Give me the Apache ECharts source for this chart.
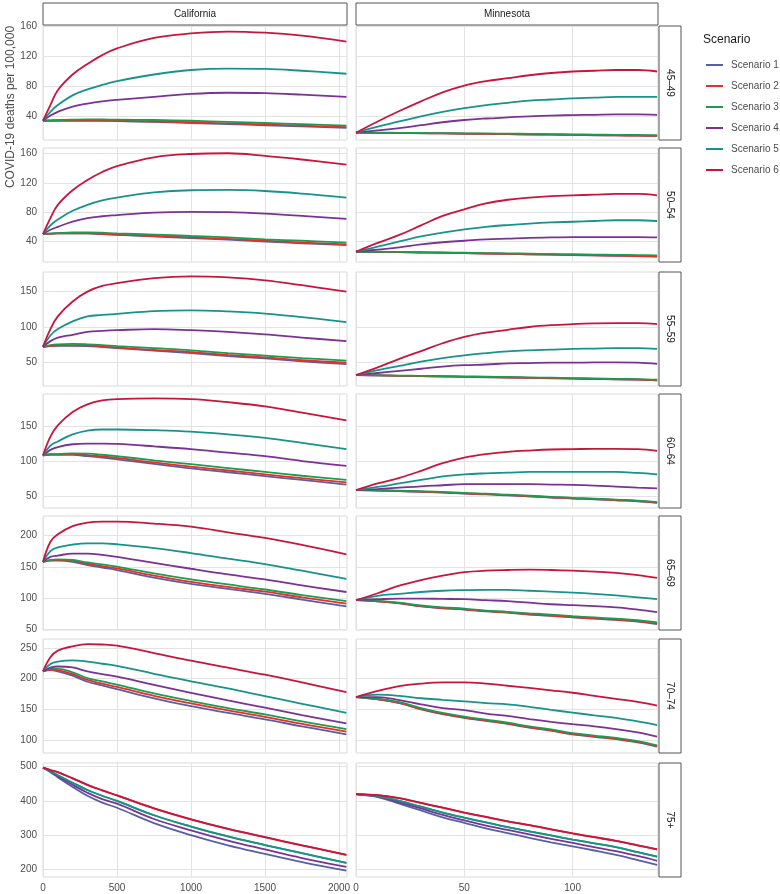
<!DOCTYPE html>
<html>
<head>
<meta charset="utf-8">
<script src="https://cdn.jsdelivr.net/npm/echarts@6/dist/echarts.min.js"></script>
<style>
html, body { margin: 0; padding: 0; background: #fff; }
#chart { width: 780px; height: 894px; }
</style>
</head>
<body>
<div id="chart"></div>
<script>
// ---- data ----
var scenarios = ['Scenario 1', 'Scenario 2', 'Scenario 3', 'Scenario 4', 'Scenario 5', 'Scenario 6'];
var states = ['California', 'Minnesota'];
var ageGroups = ['45–49', '50–54', '55–59', '60–64', '65–69', '70–74', '75+'];

var caDays = [0, 50, 100, 200, 300, 400, 500, 750, 1000, 1250, 1500, 1750, 2050];
var mnDays = [0, 10, 20, 30, 40, 50, 60, 70, 80, 90, 100, 110, 120, 130, 139];

var caTicksX = [0, 500, 1000, 1500, 2000];
var mnTicksX = [0, 50, 100];
var yTicks = [
    [40, 80, 120, 160],
    [40, 80, 120, 160],
    [50, 100, 150],
    [50, 100, 150],
    [50, 100, 150, 200],
    [100, 150, 200, 250],
    [200, 300, 400, 500]
];

// California, one row per scenario
var ca4549 = [
    [34, 34, 34, 34, 34, 34, 33.5, 32.5, 31, 29.5, 28, 26.5, 24.5],
    [34, 34.2, 34.4, 34.5, 34.5, 34.3, 34, 33, 32, 30.5, 29, 27.5, 25.5],
    [34, 34.5, 35, 35.5, 35.8, 35.7, 35.5, 35, 34, 32.5, 31, 29.5, 27.5],
    [34, 41, 46, 53, 57, 60, 62, 66, 70, 71.5, 71, 69, 66],
    [34, 46, 55, 68, 76, 82, 87, 96, 102, 104, 103.5, 101, 97],
    [34, 55, 75, 96, 110, 122, 131, 145, 151, 153.5, 152, 148, 140]
];
var ca5054 = [
    [50, 50.5, 51, 51, 51, 50, 49, 47, 44.5, 42.5, 40, 37.5, 35],
    [50, 50.5, 51, 51.3, 51.3, 50.5, 49.5, 47.5, 45.5, 43.5, 41, 38.5, 36],
    [50, 51, 51.5, 52.3, 52.5, 52, 51, 49.5, 47.5, 45.5, 43, 41, 38.5],
    [50, 56, 60, 67, 72, 74.5, 76, 79.5, 80.5, 80, 78, 75, 71],
    [50, 62, 70, 82, 90, 96, 100, 107, 110, 110.5, 109, 105.5, 100],
    [50, 72, 90, 110, 124, 135, 143, 155, 159.5, 160.5, 157, 152, 145]
];
var ca5559 = [
    [72, 73, 73.5, 73.5, 73, 71.5, 70, 66.5, 63, 59, 55.5, 51.5, 47.5],
    [72, 73.5, 74, 74, 74, 72.5, 71, 67.5, 64.5, 60.5, 57, 53, 49.5],
    [72, 74.5, 75.5, 76, 75.5, 74.5, 73, 70, 67, 63, 59.5, 56, 52.5],
    [72, 80, 85, 89, 93, 94.5, 95.5, 97, 95.5, 93, 89.5, 85, 80],
    [72, 88, 97, 108, 115, 117, 118.5, 122.5, 123.5, 122, 119, 114, 107],
    [72, 97, 115, 136, 150, 158, 162, 169, 171.5, 170, 166, 159, 150]
];
var ca6064 = [
    [108, 109, 109, 109, 107, 105, 102.5, 96, 89.5, 84, 78.5, 73, 66.5],
    [108, 109.5, 109.5, 110, 108.5, 106.5, 104.5, 98, 92, 86.5, 81, 75.5, 69.5],
    [108, 110, 110, 111, 110.5, 109, 107, 101, 95.5, 90, 84.5, 79, 73],
    [108, 116, 120, 124, 125, 125, 124.5, 121, 117, 112, 107, 100, 93],
    [108, 122, 128, 138, 143.5, 145, 145, 144, 142, 138, 133, 126, 117],
    [108, 135, 151, 170, 181, 186.5, 188.5, 189.5, 188.5, 184, 178, 169, 158]
];
var ca6569 = [
    [158, 160, 160, 158, 153, 149, 145, 133, 123, 115, 107, 98, 87],
    [158, 160.5, 161, 159.5, 155, 151, 147.5, 136, 126, 118, 110.5, 101.5, 91.5],
    [158, 161, 162, 161, 157, 154, 150.5, 139.5, 130, 122, 114, 105, 95.5],
    [158, 166, 168, 171, 171, 169, 166, 156.5, 147, 138, 130, 120.5, 110],
    [158, 175, 181, 185.5, 187.5, 187.5, 186, 180, 172, 163, 154.5, 144, 131],
    [158, 190, 202, 215, 220.5, 222, 222, 219, 214, 205, 196, 185, 170]
];
var ca7074 = [
    [212, 214, 212, 205, 195, 189, 183, 168, 155, 144, 133.5, 122, 109],
    [212, 215, 214, 207.5, 198, 192, 186.5, 172, 159.5, 148, 137.5, 126, 113.5],
    [212, 216, 216, 210.5, 201, 195.5, 190.5, 176, 163.5, 152, 141.5, 130, 117.5],
    [212, 218, 220, 218.5, 212, 207.5, 203.5, 190, 177, 164.5, 152.5, 140.5, 127],
    [212, 224, 228, 230, 228, 224.5, 221, 208, 195.5, 184, 171.5, 159, 144],
    [212, 235, 246, 253, 256.5, 256, 254, 242, 229.5, 218, 206.5, 194, 178]
];
var ca75 = [
    [497, 484, 469, 441, 415, 395, 380, 335, 300, 270, 245, 221, 196],
    [497, 490, 484, 466, 447, 431, 416, 378, 346, 318, 294, 270, 242],
    [497, 487, 475, 453, 432, 415, 400, 358, 325, 296, 271, 247, 219],
    [497, 486, 472, 447, 424, 405, 392, 347, 314, 284, 258, 233, 207],
    [497, 487, 475, 453, 432, 415, 400, 358, 325, 296, 271, 247, 219],
    [497, 490, 484, 466, 447, 431, 416, 378, 346, 318, 294, 270, 242]
];

// Minnesota, one row per scenario
var mn4549 = [
    [18, 17.8, 17.5, 17.2, 17, 16.6, 16.3, 16, 15.6, 15.3, 15, 14.6, 14.3, 14, 13.6],
    [18, 17.8, 17.6, 17.3, 17, 16.7, 16.4, 16.1, 15.7, 15.4, 15.1, 14.7, 14.4, 14.1, 13.7],
    [18, 18, 17.8, 17.6, 17.4, 17.2, 17, 16.7, 16.4, 16.1, 15.8, 15.5, 15.2, 14.9, 14.6],
    [18, 21, 24, 28, 32, 35, 37, 38.5, 40, 41, 41.5, 42, 42.5, 42.5, 42],
    [18, 26, 33, 40, 46, 51, 55, 58, 61, 62.5, 64, 65, 66, 66, 66],
    [18, 33, 47, 60, 72, 81, 87, 91, 95, 98, 100, 101, 102, 102, 100]
];
var mn5054 = [
    [26, 25.8, 25.5, 25, 24.5, 24, 23.5, 23, 22.5, 22, 21.5, 21, 20.5, 20, 19.5],
    [26, 25.8, 25.5, 25, 24.6, 24.1, 23.6, 23.1, 22.6, 22.1, 21.6, 21.1, 20.6, 20.1, 19.6],
    [26, 26, 25.8, 25.4, 25, 24.6, 24.2, 23.8, 23.4, 23, 22.6, 22.2, 21.8, 21.4, 21],
    [26, 29, 32, 36, 39, 41, 43, 44, 45, 45.5, 46, 46, 46, 46, 45.5],
    [26, 33, 40, 47, 52, 56.5, 60, 62.5, 64.5, 66, 67, 68, 69, 69, 68],
    [26, 38, 49, 62, 75, 84, 92, 97, 100, 102, 103, 104, 105, 105, 103]
];
var mn5559 = [
    [32, 31.5, 31, 30.5, 30, 29.5, 29, 28.5, 28, 27.5, 27, 26.5, 26, 25.5, 24.6],
    [32, 31.5, 31, 30.6, 30.1, 29.6, 29.1, 28.6, 28.1, 27.6, 27.1, 26.6, 26.1, 25.6, 24.7],
    [32, 31.8, 31.4, 31, 30.6, 30.2, 29.8, 29.3, 28.8, 28.3, 27.8, 27.3, 26.8, 26.3, 25.4],
    [32, 35, 38, 41, 44, 46, 47, 48.5, 49, 49.5, 49.5, 50, 50, 49.5, 48],
    [32, 39, 45, 51, 56, 60, 63, 65.5, 67, 68, 69, 69.5, 70, 70, 69],
    [32, 43, 55, 66, 77, 86, 92, 96, 100, 102.5, 104, 105, 105.5, 105.5, 104]
];
var mn6064 = [
    [58.5, 58, 57, 56, 55, 53.5, 52.5, 51, 49.5, 48, 46.5, 45.5, 44, 42.5, 40.5],
    [58.5, 58, 57.2, 56.3, 55.2, 53.8, 52.8, 51.3, 49.8, 48.3, 46.8, 45.8, 44.3, 42.8, 40.8],
    [58.5, 58.5, 57.8, 57, 56, 54.5, 53.5, 52, 50.5, 49, 47.5, 46.5, 45, 43.5, 41.5],
    [58.5, 60, 62, 64, 65.5, 67, 67, 67, 67, 66.5, 66, 65, 63.5, 62, 61],
    [58.5, 63, 68, 73, 78, 81, 82.5, 83.5, 84.5, 84.5, 84.5, 84.5, 84.5, 83, 81],
    [58.5, 68, 76, 86, 97, 105, 110, 113, 115, 116.5, 117, 117.5, 117.5, 117, 114.5]
];
var mn6569 = [
    [97, 95, 92, 87, 84, 82, 79, 77, 74, 72, 69.5, 67.5, 65.5, 63, 59],
    [97, 95.3, 92.3, 87.5, 84.5, 82.5, 79.5, 77.5, 74.5, 72.5, 70, 68, 66, 63.5, 59.5],
    [97, 96, 93, 88.5, 85.5, 83.5, 80.5, 78.5, 76, 74, 71.5, 69.5, 67.5, 65, 61.5],
    [97, 98.5, 99.5, 99.5, 99, 98.5, 97, 95.5, 93, 90.5, 89, 87.5, 85.5, 82, 78],
    [97, 104, 107, 110, 112, 113, 113.5, 113.5, 112, 110.5, 109, 107, 104.5, 101.5, 98.5],
    [97, 108, 120, 129, 136, 141.5, 144, 145, 145.5, 145, 144, 142.5, 140.5, 137, 132.5]
];
var mn7074 = [
    [170, 166, 160, 150, 142, 136, 131, 126, 120, 115, 109, 105, 101, 96, 89],
    [170, 166.5, 160.5, 150.5, 142.5, 136.5, 131.5, 126.5, 120.5, 115.5, 109.5, 105.5, 101.5, 96.5, 89.5],
    [170, 167, 161.5, 152, 144, 138, 133, 128, 122, 117, 111, 107, 103, 98, 91],
    [170, 170, 165, 158, 152, 148.5, 143, 139, 134, 129.5, 125.5, 122, 117.5, 112, 105],
    [170, 174, 172, 168, 165.5, 163, 160, 158, 154, 149, 144.5, 140, 136, 130, 124],
    [170, 180, 188, 192, 194, 194, 192, 188.5, 185, 181, 177, 172, 167, 162, 156]
];
var mn75 = [
    [419, 411, 392, 372, 352, 336, 320, 306, 292, 279, 267, 255, 242, 227, 213],
    [420, 417, 408, 394, 380, 366, 353, 340, 329, 317, 305, 294, 283, 270, 258],
    [420, 414, 400, 383, 366, 351, 337, 323, 311, 299, 287, 276, 265, 250, 237],
    [420, 413, 396, 378, 359, 343, 328, 315, 302, 289, 277, 265, 253, 239, 225],
    [420, 414, 400, 383, 366, 351, 337, 323, 311, 299, 287, 276, 265, 250, 237],
    [420, 417, 408, 394, 380, 366, 353, 340, 329, 317, 305, 294, 283, 270, 258]
];

var caPanels = [ca4549, ca5054, ca5559, ca6064, ca6569, ca7074, ca75];
var mnPanels = [mn4549, mn5054, mn5559, mn6064, mn6569, mn7074, mn75];

// ---- layout / style ----
var colors = ['#5560a8', '#ee2a2a', '#1f9a4e', '#7b3294', '#17938a', '#c8153c'];
var font = 'Liberation Sans, Arial, sans-serif';
var rowTop = [26, 148, 272, 394, 516, 639, 763];
var rowH = 114;
var colLeft = [43, 356];
var colW = [304, 302];
var xMax = [2054, 139.4];
var yRange = [[8.2, 161], [12, 167.7], [16.6, 177.7], [33, 195.7], [49.5, 231], [78.4, 265], [177.5, 510.8]];

function plain(v) { return String(v); }

var grids = [], xAxes = [], yAxes = [], series = [], graphics = [];
var idx = 0;

for (var r = 0; r < ageGroups.length; r++) {
    for (var c = 0; c < 2; c++) {
        grids.push({
            left: colLeft[c], top: rowTop[r], width: colW[c], height: rowH,
            show: true, borderColor: '#dadada', borderWidth: 1, backgroundColor: 'transparent'
        });
        var xt = c === 0 ? caTicksX : mnTicksX;
        xAxes.push({
            type: 'value', gridIndex: idx, min: 0, max: xMax[c],
            axisLine: {show: false},
            axisTick: {show: false, customValues: xt},
            axisLabel: {show: r === ageGroups.length - 1, customValues: xt, color: '#4d4d4d',
                fontSize: 10, fontFamily: font, margin: 6, formatter: plain},
            splitLine: {show: true, lineStyle: {color: '#e3e3e3', width: 1}}
        });
        yAxes.push({
            type: 'value', gridIndex: idx, min: yRange[r][0], max: yRange[r][1],
            axisLine: {show: false},
            axisTick: {show: false, customValues: yTicks[r]},
            axisLabel: {show: c === 0, customValues: yTicks[r], color: '#4d4d4d',
                fontSize: 10, fontFamily: font, margin: 6, formatter: plain},
            splitLine: {show: true, lineStyle: {color: '#e3e3e3', width: 1}}
        });
        var panel = c === 0 ? caPanels[r] : mnPanels[r];
        var days = c === 0 ? caDays : mnDays;
        for (var s = 0; s < scenarios.length; s++) {
            series.push({
                name: scenarios[s],
                type: 'line',
                xAxisIndex: idx, yAxisIndex: idx,
                data: days.map(function (d, i) { return [d, panel[s][i]]; }),
                symbol: 'none',
                smooth: 0.4,
                lineStyle: {width: 1.8, color: colors[s]},
                itemStyle: {color: colors[s]},
                silent: true
            });
        }
        idx++;
    }
    // row strip on the right
    graphics.push({
        type: 'rect', shape: {x: 659, y: rowTop[r], width: 22, height: rowH},
        style: {fill: '#fff', stroke: '#555', lineWidth: 1}
    });
    graphics.push({
        type: 'text', x: 670, y: rowTop[r] + rowH / 2, rotation: -Math.PI / 2,
        style: {text: ageGroups[r], fill: '#1a1a1a', font: '10px ' + font, align: 'center', verticalAlign: 'middle'}
    });
}

// column strips
for (var c2 = 0; c2 < 2; c2++) {
    graphics.push({
        type: 'rect', shape: {x: colLeft[c2], y: 3, width: colW[c2], height: 22},
        style: {fill: '#fff', stroke: '#555', lineWidth: 1}
    });
    graphics.push({
        type: 'text', x: colLeft[c2] + colW[c2] / 2, y: 14,
        style: {text: states[c2], fill: '#1a1a1a', font: '10px ' + font, align: 'center', verticalAlign: 'middle'}
    });
}

// y axis title
graphics.push({
    type: 'text', x: 11, y: 107, rotation: Math.PI / 2,
    style: {text: 'COVID-19 deaths per 100,000', fill: '#4d4d4d', font: '12px ' + font, align: 'center', verticalAlign: 'middle'}
});
// legend title
graphics.push({
    type: 'text', x: 703, y: 40,
    style: {text: 'Scenario', fill: '#1a1a1a', font: '12px ' + font, align: 'left', verticalAlign: 'middle'}
});

var chart = echarts.init(document.getElementById('chart'), null, {renderer: 'canvas'});
chart.setOption({
    animation: false,
    color: colors,
    grid: grids,
    xAxis: xAxes,
    yAxis: yAxes,
    legend: {
        data: scenarios,
        orient: 'vertical',
        left: 706, top: 59,
        icon: 'rect',
        itemWidth: 17, itemHeight: 2, itemGap: 9,
        padding: 0,
        textStyle: {color: '#4d4d4d', fontSize: 10, fontFamily: font, lineHeight: 12, padding: [0, 0, 0, 3]}
    },
    graphic: graphics,
    series: series
});
</script>
</body>
</html>
